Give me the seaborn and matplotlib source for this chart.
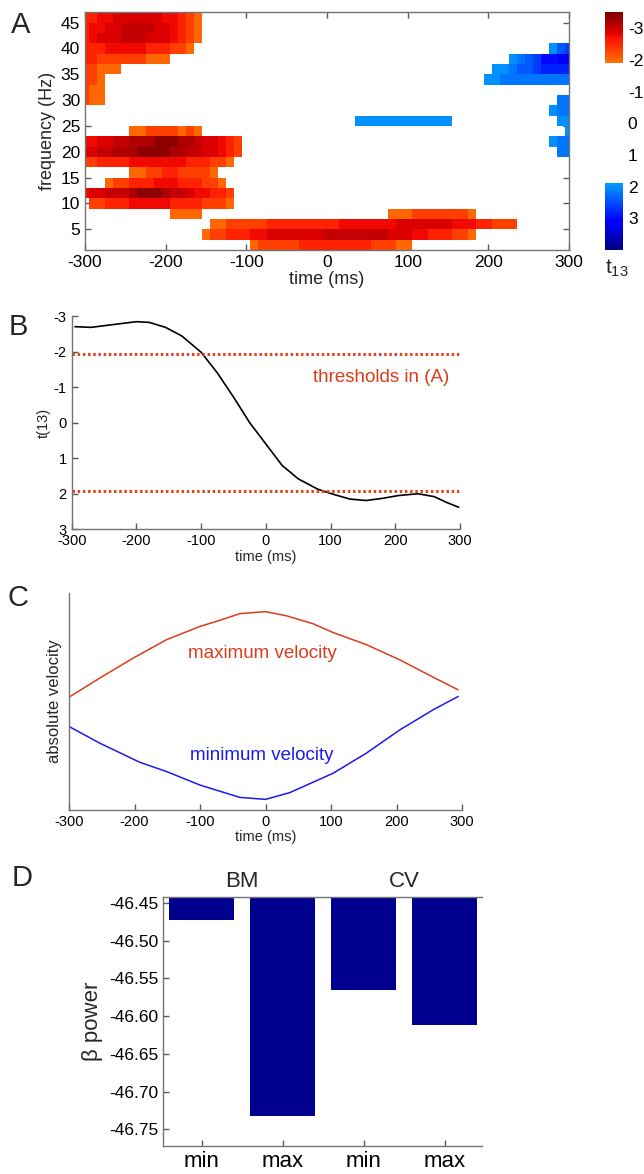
import numpy as np
import pandas as pd
import matplotlib
matplotlib.use('Agg')
import matplotlib.pyplot as plt
from matplotlib.colors import ListedColormap
import seaborn as sns

# ---------------- data ----------------
# A: t-map, 10 ms x 2 Hz cells; each row = list of (first cell centre ms, level codes)
times = list(range(-300, 301, 10))
freqs = list(range(46, 0, -2))
level = {'1': -2.0, '2': -2.3, '3': -2.55, '4': -2.75, '5': -2.9, '6': -3.05,
         '7': -3.2, '8': -3.4,
         'a': 2.0, 'b': 2.2, 'c': 2.4, 'd': 2.6, 'e': 2.8, 'f': 3.0, 'g': 3.2}
tmap_rows = {
    46: [(-300, "334455555544321")],
    44: [(-300, "344556666554321")],
    42: [(-300, "345556665554321")],
    40: [(-300, "33344444333221"), (280, "acd")],
    38: [(-300, "33222222111"), (230, "abcdffgg")],
    36: [(-300, "22111"), (210, "aabccdeeee")],
    34: [(-300, "221"), (200, "aabbbbbbbbb")],
    32: [(-300, "211")],
    30: [(-300, "211"), (290, "bb")],
    28: [(280, "abb")],
    26: [(40, "aaaaaaaaaaaa"), (290, "aa")],
    24: [(-240, "112222121"), (300, "a")],
    22: [(-300, "44556677788877655432"), (280, "abb")],
    20: [(-300, "55667778888776655432"), (290, "bb")],
    18: [(-300, "2233334444444333221")],
    16: [(-240, "11223322221")],
    14: [(-270, "122333444333221")],
    12: [(-300, "4556667888766544332")],
    10: [(-290, "223334444433332221")],
    8: [(-190, "1111"), (80, "11122222221")],
    6: [(-140, "11222223333333334444444555555544433222")],
    4: [(-150, "1223334455555556666666655544333221")],
    2: [(-90, "12222233333333322211")],
}
vmin, vmax, t_thr = -3.5, 4.0, 1.9

# B: t(13) time course
tb_time = [-295, -270, -240, -200, -180, -155, -130, -100, -75, -50, -25, 0,
           25, 50, 80, 105, 130, 155, 180, 205, 235, 260, 280, 298]
tb_t = [-2.70, -2.68, -2.75, -2.84, -2.82, -2.68, -2.44, -1.98, -1.40, -0.72,
        0.0, 0.6, 1.2, 1.58, 1.87, 2.02, 2.15, 2.19, 2.13, 2.05, 2.0, 2.08,
        2.25, 2.38]
thresholds = [-1.93, 1.93]

# C: absolute velocity (arbitrary units)
vel_time = [-300, -253, -202, -151, -100, -75, -39, 0, 32, 73, 103, 154, 205, 256, 294]
vel_max = [0.52, 0.608, 0.70, 0.785, 0.846, 0.869, 0.905, 0.914, 0.895, 0.858,
           0.818, 0.762, 0.692, 0.612, 0.554]
vel_time2 = [-300, -253, -192, -151, -100, -39, 0, 37, 103, 154, 205, 256, 294]
vel_min = [0.385, 0.308, 0.22, 0.177, 0.115, 0.058, 0.049, 0.08, 0.169, 0.262,
           0.369, 0.462, 0.523]

# D: beta power
conds = ['BM min', 'BM max', 'CV min', 'CV max']
cond_ticks = ['min', 'max', 'min', 'max']
beta = [-46.473, -46.732, -46.565, -46.612]

# ---------------- style ----------------
sns.set_theme(style='white')
plt.rcParams['font.family'] = ['Liberation Sans', 'DejaVu Sans']
plt.rcParams['axes.unicode_minus'] = False
plt.rcParams['mathtext.default'] = 'regular'
plt.rcParams['xtick.direction'] = 'in'
plt.rcParams['ytick.direction'] = 'in'
plt.rcParams['axes.edgecolor'] = '0.45'
plt.rcParams['axes.linewidth'] = 1.0
plt.rcParams['xtick.color'] = '0.35'
plt.rcParams['ytick.color'] = '0.35'
plt.rcParams['xtick.labelcolor'] = 'black'
plt.rcParams['ytick.labelcolor'] = 'black'

W, H = 644, 1174
fig = plt.figure(figsize=(W / 100, H / 100), dpi=100)


def rect(l, t, r, b):
    return [l / W, 1 - b / H, (r - l) / W, (b - t) / H]


red = '#dc3c1a'
blue = '#1a1af0'

# ---------------- A ----------------
grid = pd.DataFrame(np.nan, index=freqs, columns=times)
for f, segs in tmap_rows.items():
    for start, codes in segs:
        for i, c in enumerate(codes):
            grid.loc[f, start + 10 * i] = level[c]

tt = np.linspace(vmin, vmax, 256)
cols = plt.cm.jet_r((tt - vmin) / (vmax - vmin))
cols[np.abs(tt) < t_thr] = [1, 1, 1, 1]
cmap = ListedColormap(cols)

axA = fig.add_axes(rect(85, 12.3, 569, 250))
cax = fig.add_axes(rect(605, 12.3, 623, 250))
sns.heatmap(grid, cmap=cmap, vmin=vmin, vmax=vmax, ax=axA, cbar_ax=cax,
            xticklabels=False, yticklabels=False)
axA.set_xlim(0.5, len(times) - 0.5)
axA.set_ylim(len(freqs), 0)
for s in axA.spines.values():
    s.set_visible(True)
    s.set_color('0.45')
xt = [-300, -200, -100, 0, 100, 200, 300]
axA.set_xticks([(t + 300) / 10 + 0.5 for t in xt])
axA.set_xticklabels([str(t) for t in xt], fontsize=12.5)
yt = [5, 10, 15, 20, 25, 30, 35, 40, 45]
axA.set_yticks([(46 - f) / 2 + 0.5 for f in yt])
axA.set_yticklabels([str(f) for f in yt], fontsize=12.5, rotation=0)
axA.tick_params(top=True, right=True, bottom=True, left=True, length=4, width=1)
axA.set_xlabel('time (ms)', fontsize=13, labelpad=1)
axA.set_ylabel('frequency (Hz)', fontsize=13, labelpad=3)

cb = axA.collections[0].colorbar
cb.ax.invert_yaxis()
cb.set_ticks([-3, -2, -1, 0, 1, 2, 3])
cb.ax.tick_params(direction='in', length=4, labelsize=12.5, right=True)
cb.outline.set_edgecolor('0.45')
fig.text(605 / W, 1 - 268 / H, 't$_{13}$', fontsize=15, ha='left', va='center')

# ---------------- B ----------------
axB = fig.add_axes(rect(71.7, 316, 460, 529.3))
sns.lineplot(x=tb_time, y=tb_t, color='black', lw=1.2, ax=axB)
for th in thresholds:
    axB.axhline(th, color='#e8401c', lw=2.2, ls=(0, (0.8, 0.9)))
axB.set_xlim(-300, 300)
axB.set_ylim(3, -3)
axB.set_xticks(xt)
axB.set_xticklabels([str(t) for t in xt], fontsize=10.5)
axB.set_yticks([-3, -2, -1, 0, 1, 2, 3])
axB.set_yticklabels(['-3', '-2', '-1', '0', '1', '2', '3'], fontsize=10.5)
axB.tick_params(length=4, width=1, bottom=True, left=True)
axB.set_xlabel('time (ms)', fontsize=10.5, labelpad=1)
axB.set_ylabel('t(13)', fontsize=10.5, labelpad=2)
axB.text(178, -1.28, 'thresholds in (A)', color=red, fontsize=13.5,
         ha='center', va='center')
sns.despine(ax=axB)

# ---------------- C ----------------
axC = fig.add_axes(rect(69, 593, 462, 810))
sns.lineplot(x=vel_time, y=vel_max, color=red, lw=1.1, ax=axC)
sns.lineplot(x=vel_time2, y=vel_min, color=blue, lw=1.1, ax=axC)
axC.set_xlim(-300, 300)
axC.set_ylim(0, 1)
axC.set_xticks(xt)
axC.set_xticklabels([str(t) for t in xt], fontsize=10.5)
axC.set_yticks([])
axC.tick_params(length=4, width=1, bottom=True)
axC.set_xlabel('time (ms)', fontsize=10.5, labelpad=1)
axC.set_ylabel('absolute velocity', fontsize=12, labelpad=5)
axC.text(-5, 0.72, 'maximum velocity', color=red, fontsize=13.5,
         ha='center', va='center')
axC.text(-5, 0.25, 'minimum velocity', color=blue, fontsize=13.5,
         ha='center', va='center')
sns.despine(ax=axC)

# ---------------- D ----------------
axD = fig.add_axes(rect(163, 896.7, 482, 1146))
sns.barplot(x=conds, y=beta, color='#00008f', saturation=1, width=0.8,
            errorbar=None, linewidth=0, ax=axD)
axD.set_ylim(-46.772, -46.442)
axD.set_xlim(-0.48, 3.46)
axD.set_yticks([-46.45, -46.50, -46.55, -46.60, -46.65, -46.70, -46.75])
axD.set_yticklabels(['-46.45', '-46.50', '-46.55', '-46.60', '-46.65',
                     '-46.70', '-46.75'], fontsize=12.5)
axD.set_xticks(range(len(conds)))
axD.set_xticklabels(cond_ticks, fontsize=16)
axD.tick_params(length=4, width=1, bottom=True, left=True)
axD.set_xlabel('')
axD.set_ylabel('β power', fontsize=16, labelpad=4)
axD.spines['right'].set_visible(False)
axD.text(0.5, 1.06, 'BM', fontsize=16, ha='center', va='center',
         transform=axD.get_xaxis_transform())
axD.text(2.5, 1.06, 'CV', fontsize=16, ha='center', va='center',
         transform=axD.get_xaxis_transform())

# panel letters
for lab, x, y in [('A', 21, 25), ('B', 18, 327), ('C', 18, 598), ('D', 22, 878)]:
    fig.text(x / W, 1 - y / H, lab, fontsize=21, ha='center', va='center')

fig.savefig('out.png', dpi=100)
